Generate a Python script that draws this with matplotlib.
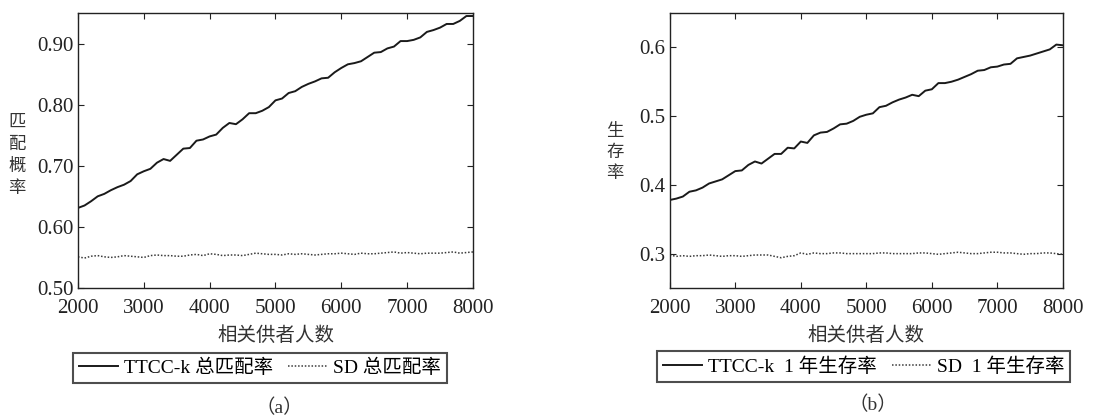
#!/usr/bin/env python3
"""Matching probability / 1-year survival vs number of related donors (TTCC-k vs SD)."""

import matplotlib
matplotlib.use("Agg")
import matplotlib.pyplot as plt
import numpy as np

plt.rcParams["font.family"] = ["Liberation Serif", "Noto Sans CJK SC"]
plt.rcParams["axes.unicode_minus"] = False

donors = np.arange(2000, 8001, 100)

ttcc_match = [
    0.631, 0.635, 0.642, 0.650, 0.654, 0.660, 0.665, 0.669, 0.675, 0.686,
    0.691, 0.695, 0.705, 0.711, 0.708, 0.718, 0.728, 0.729, 0.741, 0.743,
    0.748, 0.751, 0.762, 0.770, 0.768, 0.776, 0.786, 0.786, 0.790, 0.796,
    0.807, 0.810, 0.819, 0.822, 0.829, 0.834, 0.838, 0.843, 0.844, 0.853,
    0.860, 0.866, 0.868, 0.871, 0.878, 0.885, 0.886, 0.892, 0.895, 0.904,
    0.904, 0.906, 0.910, 0.919, 0.922, 0.926, 0.932, 0.932, 0.937, 0.945,
    0.945,
]
sd_match = [
    0.551, 0.549, 0.552, 0.553, 0.551, 0.550, 0.551, 0.553, 0.552, 0.551,
    0.550, 0.553, 0.554, 0.553, 0.553, 0.552, 0.552, 0.554, 0.555, 0.553,
    0.556, 0.555, 0.553, 0.554, 0.554, 0.553, 0.555, 0.557, 0.556, 0.555,
    0.555, 0.554, 0.556, 0.555, 0.556, 0.555, 0.554, 0.555, 0.556, 0.556,
    0.557, 0.556, 0.555, 0.557, 0.556, 0.556, 0.557, 0.558, 0.559, 0.557,
    0.558, 0.557, 0.556, 0.557, 0.557, 0.557, 0.558, 0.559, 0.557, 0.558,
    0.559,
]

ttcc_surv = [
    0.378, 0.380, 0.383, 0.390, 0.392, 0.396, 0.402, 0.405, 0.408, 0.414,
    0.420, 0.421, 0.429, 0.434, 0.431, 0.438, 0.445, 0.445, 0.454, 0.453,
    0.463, 0.461, 0.472, 0.476, 0.477, 0.482, 0.488, 0.489, 0.493, 0.499,
    0.502, 0.504, 0.513, 0.515, 0.520, 0.524, 0.527, 0.531, 0.529, 0.537,
    0.539, 0.548, 0.548, 0.550, 0.553, 0.557, 0.561, 0.566, 0.567, 0.571,
    0.572, 0.575, 0.576, 0.584, 0.586, 0.588, 0.591, 0.594, 0.597, 0.604,
    0.603,
]
sd_surv = [
    0.298, 0.296, 0.297, 0.296, 0.297, 0.297, 0.298, 0.297, 0.296, 0.297,
    0.297, 0.296, 0.297, 0.298, 0.298, 0.298, 0.296, 0.294, 0.296, 0.297,
    0.301, 0.299, 0.301, 0.300, 0.300, 0.301, 0.301, 0.300, 0.300, 0.300,
    0.300, 0.300, 0.301, 0.301, 0.300, 0.300, 0.300, 0.300, 0.301, 0.301,
    0.300, 0.299, 0.300, 0.301, 0.302, 0.301, 0.300, 0.300, 0.301, 0.302,
    0.302, 0.301, 0.301, 0.300, 0.299, 0.300, 0.300, 0.301, 0.301, 0.300,
    0.299,
]

xticks = [2000, 3000, 4000, 5000, 6000, 7000, 8000]

W, H = 1120, 418
fig = plt.figure(figsize=(W / 100, H / 100), dpi=100)
ax_a = fig.add_axes([0.0696, 0.311, 0.3527, 0.658])
ax_b = fig.add_axes([0.598, 0.311, 0.351, 0.658])

# (axes, series..., ylim, yticks, fmt, ylabel chars, legend labels,
#  legend centre, caption centre, caption, ylabel x px, ylabel first-char y px, step px)
panels = [
    (ax_a, ttcc_match, sd_match, (0.50, 0.95), [0.50, 0.60, 0.70, 0.80, 0.90], "{:.2f}",
     "匹配概率", "TTCC-k 总匹配率", "SD 总匹配率", (0.232, 0.120), (0.249, 0.024),
     "（a）", 17, 123, 22),
    (ax_b, ttcc_surv, sd_surv, (0.25, 0.65), [0.3, 0.4, 0.5, 0.6], "{:.1f}",
     "生存率", "TTCC-k  1 年生存率", "SD  1 年生存率", (0.771, 0.123), (0.779, 0.031),
     "（b）", 615, 132, 21),
]

for (ax, ttcc, sd, ylim, yticks, fmt, ylab, lab1, lab2, leg_pos, cap_pos, cap,
     ylx, yly, step) in panels:
    l1, = ax.plot(donors, ttcc, color="#1a1a1a", linewidth=1.4, label=lab1)
    l2, = ax.plot(donors, sd, color="#3a3a3a", linewidth=1.1, linestyle=(0, (1, 1.2)), label=lab2)
    ax.set_xlim(2000, 8000)
    ax.set_ylim(*ylim)
    ax.set_xticks(xticks)
    ax.set_yticks(yticks)
    ax.set_yticklabels([fmt.format(v) for v in yticks])
    ax.tick_params(direction="in", top=True, right=True, length=4, width=0.8,
                   labelsize=15, colors="#222222")
    ax.tick_params(axis="x", pad=8)
    ax.tick_params(axis="y", pad=3)
    for s in ax.spines.values():
        s.set_linewidth(1.0)
        s.set_color("#222222")
    ax.set_xlabel("相关供者人数", fontsize=14, labelpad=6, color="#333333")
    # vertical stacked y label, one character per row
    for i, ch in enumerate(ylab):
        fig.text(ylx / W, 1 - (yly + i * step) / H, ch, fontsize=12.5,
                 ha="center", va="center", color="#333333")
    leg = ax.legend(handles=[l1, l2], loc="center", bbox_to_anchor=leg_pos,
                    bbox_transform=fig.transFigure, ncol=2, fontsize=14, frameon=True,
                    fancybox=False, edgecolor="#222222", handlelength=2.0,
                    handletextpad=0.3, columnspacing=0.8, borderpad=0.3)
    leg.get_frame().set_linewidth(1.5)
    fig.text(cap_pos[0], cap_pos[1], cap, fontsize=14, ha="center", va="center", color="#333333")

fig.savefig("out.png", dpi=100)
